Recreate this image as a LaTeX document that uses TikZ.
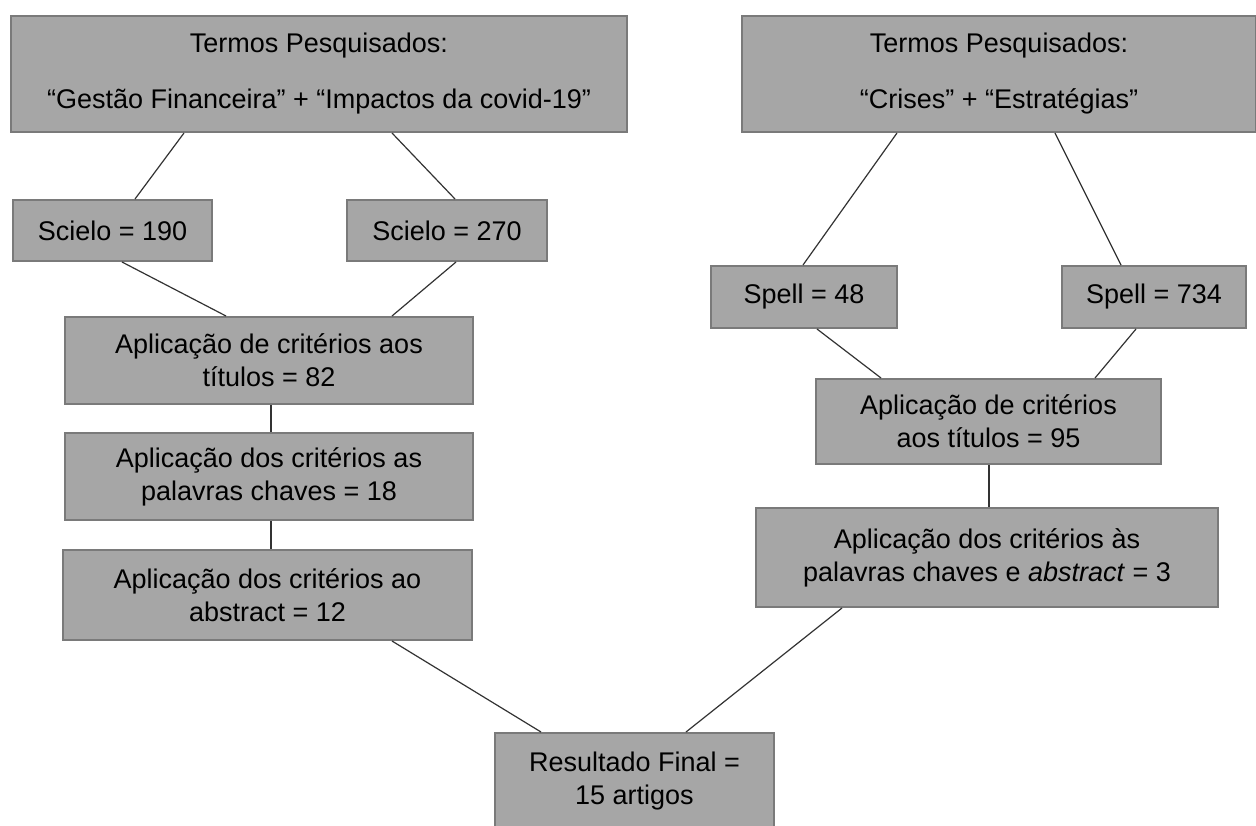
\documentclass[tikz,border=0pt]{standalone}
\usepackage{fontspec}
\setmainfont{Liberation Sans}
\usetikzlibrary{calc}
\definecolor{boxfill}{HTML}{A6A6A6}
\definecolor{boxline}{HTML}{7A7A7A}
\definecolor{conn}{HTML}{333333}
\begin{document}
\begin{tikzpicture}[x=1pt,y=-1pt,
 box/.style={draw=boxline, line width=2pt, fill=boxfill, rectangle, anchor=north west, inner sep=0pt, align=center, font=\fontsize{27}{33}\selectfont},
 link/.style={draw=conn, line width=1.2pt}]
\useasboundingbox[fill=white] (0,0) rectangle (1256,825);
\node[box, minimum width=616pt, minimum height=116pt] (top1) at (10,15) {Termos Pesquisados:\\[23pt]“Gestão Financeira” + “Impactos da covid-19”};
\node[box, minimum width=514pt, minimum height=116pt] (top2) at (741,15) {Termos Pesquisados:\\[23pt]“Crises” + “Estratégias”};
\node[box, minimum width=199pt, minimum height=61pt] (sc1) at (12,199) {Scielo = 190};
\node[box, minimum width=200pt, minimum height=61pt] (sc2) at (346,199) {Scielo = 270};
\node[box, minimum width=408pt, minimum height=87pt] (a82) at (64,316) {Aplicação de critérios aos\\títulos = 82};
\node[box, minimum width=408pt, minimum height=87pt] (a18) at (64,432) {Aplicação dos critérios as\\palavras chaves = 18};
\node[box, minimum width=409pt, minimum height=90pt] (a12) at (62,549) {Aplicação dos critérios ao\\abstract = 12};
\node[box, minimum width=186pt, minimum height=62pt] (sp48) at (710,265) {Spell = 48};
\node[box, minimum width=184pt, minimum height=62pt] (sp734) at (1061,265) {Spell = 734};
\node[box, minimum width=345pt, minimum height=85pt] (a95) at (815,378) {Aplicação de critérios\\aos títulos = 95};
\node[box, minimum width=462pt, minimum height=99pt] (a3) at (755,507) {Aplicação dos critérios às\\palavras chaves e \textit{abstract} = 3};
\node[box, minimum width=279pt, minimum height=96pt] (res) at (494,732) {Resultado Final =\\15 artigos};
\draw[link] ($(top1.south west)+(174,0)$) -- ($(sc1.north west)+(123,0)$);
\draw[link] ($(top1.south west)+(382,0)$) -- ($(sc2.north west)+(109,0)$);
\draw[link] ($(sc1.south west)+(110,0)$) -- ($(a82.north west)+(162,0)$);
\draw[link] ($(sc2.south west)+(110,0)$) -- ($(a82.north west)+(328,0)$);
\draw[link] ($(a82.south west)+(207,0)$) -- ($(a18.north west)+(207,0)$);
\draw[link] ($(a18.south west)+(207,0)$) -- ($(a12.north west)+(209,0)$);
\draw[link] ($(a12.south west)+(330,0)$) -- ($(res.north west)+(47,0)$);
\draw[link] ($(top2.south west)+(156,0)$) -- ($(sp48.north west)+(93,0)$);
\draw[link] ($(top2.south west)+(314,0)$) -- ($(sp734.north west)+(60,0)$);
\draw[link] ($(sp48.south west)+(107,0)$) -- ($(a95.north west)+(66,0)$);
\draw[link] ($(sp734.south west)+(75,0)$) -- ($(a95.north west)+(280,0)$);
\draw[link] ($(a95.south west)+(174,0)$) -- ($(a3.north west)+(234,0)$);
\draw[link] ($(a3.south west)+(87,0)$) -- ($(res.north west)+(192,0)$);
\end{tikzpicture}
\end{document}
